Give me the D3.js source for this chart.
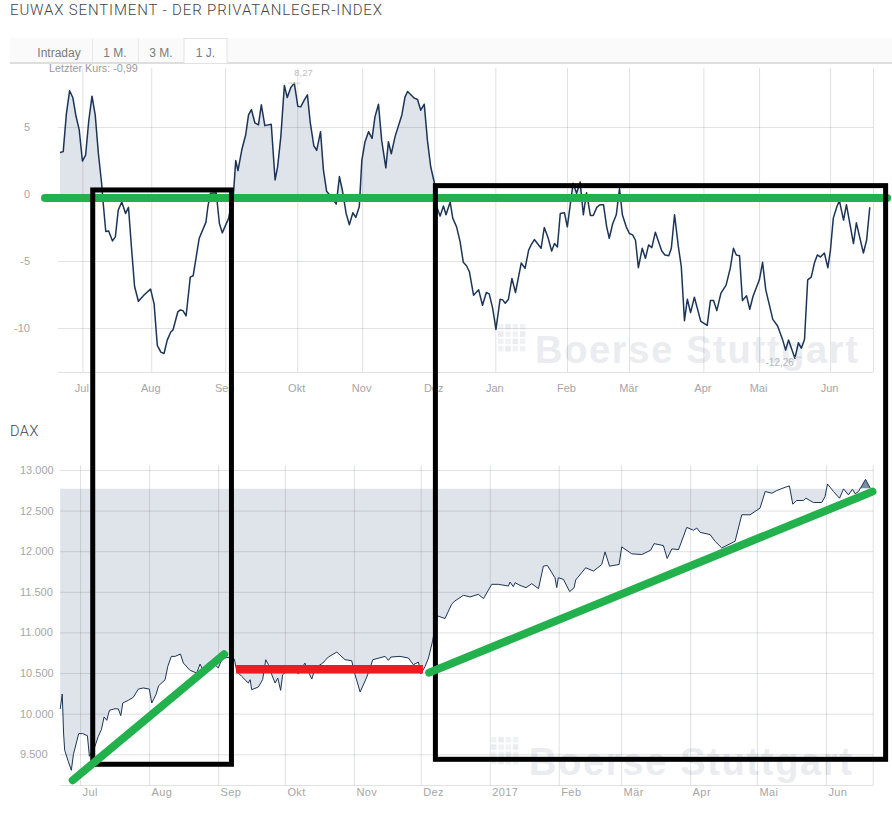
<!DOCTYPE html>
<html>
<head>
<meta charset="utf-8">
<script src="https://cdn.jsdelivr.net/npm/d3@7"></script>
<style>
  html, body { margin: 0; padding: 0; background: #fff; }
  svg { display: block; font-family: "Liberation Sans", Arial, sans-serif; }
  .grid line { stroke: rgba(60,70,90,0.16); }
  .grid path { display: none; }
  .grid text { fill: #a6a6a6; font-size: 11px; }
</style>
</head>
<body>
<svg id="chart" width="892" height="826"></svg>
<script>
// sentiment: x is the trading day number, y the index value
var sentDays = [0,1,2,3,4,5,6,7,8,9,10,11,12,13,13.5,14.3,15.2,16.4,17.3,18.2,19.3,20.5,21.4,22.3,23.3,24.5,26.4,28.3,29.4,30.4,31.5,32.5,33.5,34.6,35.3,36.8,37.6,38.4,39.4,40.7,41.6,43.5,45.6,46.2,47,48.8,49.8,50.7,52.7,54.2,54.9,55.6,56.8,58,58.9,59.8,60.9,62,62.9,64,66,67.2,68,69,70.1,71,72.1,73.2,74.3,75.2,76.3,77.3,78.2,79.3,80.2,81.4,82.3,83.3,85,86.3,87.3,88.2,89.4,90.4,91.5,92.4,93.5,94.3,95.3,96.4,97.5,98.4,99.5,100.5,101.8,102.6,103.5,104.7,106.8,107.8,108.6,110.7,111.7,112.7,113.8,114.8,115.8,117,117.7,118.75,119.8,120.6,121.9,122.7,123.9,125,126,127,127.9,129.2,130.8,132,133.2,134.1,135.2,136.2,137.5,138.3,139.1,140.1,141.2,142.3,144.1,145.3,146.4,147.2,148.2,150.3,151.3,152.4,153.6,154.5,155.4,156.3,157.6,158.5,160.3,161.4,162.5,163.5,164.5,165.7,166.6,167.7,168.7,169.8,170.8,171.6,172.7,173.8,174.8,175.7,176.9,177.9,178.9,179.8,180.7,181.9,182.9,183.9,184.9,186,188,189,190.2,191,192,193.2,194.1,195.1,196,197,198.2,200.2,202.2,203.2,204.2,205.2,206.5,208.1,209.4,210.4,211.3,212.3,213.2,214.5,215.5,216.5,218.5,219.5,220.5,222.7,224.2,225.8,226.7,227.6,229.6,230.7,231.6,232.6,233.6,234.7,235.7,236.6,237.6,238.8,239.9,240.7,241.6,242.7,243.5,244.8,245.7,247.9,248.8,251,252,253];
var sentValues = [3.1,3.16,6,7.7,7.2,5.8,4.8,2.46,2.9,5.5,7.3,5.9,3,0.8,-0.7,-2.8,-2.76,-3.5,-3.2,-1.2,-0.6,-1.45,-1,-3.9,-6.9,-8,-7.5,-7.1,-8.2,-11.3,-11.8,-11.9,-10.9,-10.3,-10.15,-8.8,-8.65,-8.7,-9.1,-6.2,-6.1,-3.3,-2.1,-0.95,0.05,0.1,-2.2,-2.9,-1.8,0.05,2.5,1.75,3.3,4.4,5.9,6.3,5.3,5.15,6.65,5.1,5.2,1.05,2.05,4.3,8.1,7.2,7.95,8.27,6.55,6.5,7,7.4,5.3,3.6,3.25,4.65,1.8,0.2,-0.3,-0.75,1.3,0.3,-1.45,-2.3,-1.4,-1.75,-0.95,2.5,3.9,4.65,4.15,5.75,6.7,4,1.95,3.9,3,4.3,5.9,7.25,7.65,7.15,7.05,6.25,6.7,4,2.05,0.8,-0.95,-1.65,-0.9,-1.55,-0.6,-1.8,-2.45,-3.55,-5.1,-5.35,-5.8,-7.55,-7.15,-8.3,-7.35,-7.45,-8.55,-10.1,-7.85,-7.9,-8.15,-7.85,-6.3,-7.35,-5.15,-5.55,-4.2,-3.8,-3.4,-4.05,-2.5,-3.2,-4.25,-3.7,-3.95,-1.45,-1.4,-2.45,0.8,0.05,0.9,-1.55,0.1,-1.6,-1.6,-1,-0.8,-0.8,-2.45,-3.3,-2.2,-1.55,0.4,-1.55,-2.45,-2.95,-3.05,-3.45,-5.5,-4.05,-4.8,-3.8,-4,-2.85,-4.25,-4.55,-4.6,-4.05,-1.55,-3.95,-5.4,-9.45,-7.85,-8.85,-7.7,-9.5,-9.8,-7.95,-7.95,-8.7,-7.4,-6.8,-5.55,-4.05,-4.55,-4.6,-7.95,-7.6,-8.6,-7.65,-6.4,-5.1,-7.15,-9.35,-9.85,-10.9,-11.65,-10.9,-12.26,-11.1,-11.5,-10.85,-6.4,-6.2,-5.15,-4.55,-4.7,-4.4,-5.5,-4.2,-1.8,-0.95,-0.5,-1.95,-0.8,-3.7,-2.15,-4.4,-3.45,-0.99];
var sentTickDays = [7,28.5,51.6,74.1,94.4,116.9,136,158.4,177.8,201,218.4,240.6,254];
var sentTickLabels = ['Jul','Aug','Sep','Okt','Nov','Dez','Jan','Feb','Mär','Apr','Mai','Jun',''];
var sentLevels = [5,0,-5,-10];

// dax: x is the calendar day counted from 22 Jun 2016
var daxDays = [0.1,1,1.6,2.1,3.7,5.1,6,8.4,10.2,12.3,13.2,15.7,17.2,18.6,19.8,21,22.2,24.7,26.2,27.3,28.2,30.7,32.9,35.2,37.4,40.1,41.2,43.1,44.3,47.2,48.4,50,51.7,54.1,55.4,58.4,61.4,62.9,64.1,66.6,68.9,71.1,72.6,74.9,77.1,78.3,79.4,81.6,84.6,85.4,86.1,89.1,91,92.4,93.6,95.1,96.6,97.8,99.1,100,103.3,107.1,110,110.8,113.1,114.6,118,120.5,124.3,128,131,132.5,134.8,137.8,140.5,146,147.5,148.6,152.7,156.5,158.7,161,162,164,165.5,167.3,169.5,172.9,175.9,177.4,181.2,184.2,187.9,190.2,193.9,196.9,201.4,202.1,203.6,204.4,206.6,209.3,211.9,214.9,217.1,218.9,222.3,223.1,223.8,226.1,228.9,230.9,231.6,236.1,239.6,243.3,244.8,246.8,251.1,252.3,256.8,261.3,265.3,266.8,271,272.7,274.8,277.8,281.5,284.5,286,287.5,292,294.2,297.2,303.2,306.2,309.9,314.4,316.7,319.7,321.9,325.7,327.6,329.1,330.9,333.9,335,338.4,342.1,343.6,344.7,347.4,350.1,351.9,354.1,355.9,357.1,358.6,361.8,363.9];
var daxValues = [10057,10242,9762,9549,9413,9303,9495,9754,9754,9729,9475,9598,9721,9803,9959,9918,10041,10061,10057,9975,10131,10164,10201,10303,10316,10303,10131,10233,10344,10418,10582,10705,10705,10734,10623,10533,10500,10611,10541,10623,10623,10561,10664,10693,10685,10672,10520,10459,10377,10418,10295,10328,10418,10664,10602,10480,10377,10438,10287,10480,10561,10492,10623,10561,10426,10561,10623,10697,10758,10664,10652,10480,10266,10451,10664,10705,10656,10697,10705,10685,10602,10635,10488,10582,10685,10890,11204,11171,11347,11388,11457,11437,11469,11416,11592,11592,11571,11620,11563,11612,11579,11551,11600,11539,11816,11824,11673,11551,11673,11653,11502,11551,11645,11796,11755,11836,11991,11816,11836,12053,11967,11959,12012,12093,12069,11910,12028,12020,12293,12257,12285,12232,12204,12122,12040,12122,12448,12448,12530,12734,12714,12746,12787,12803,12579,12624,12624,12652,12599,12599,12673,12828,12734,12652,12767,12693,12763,12706,12734,12885,12775];
var daxTicks = ['2016-07-01','2016-08-01','2016-09-01','2016-10-01','2016-11-01','2016-12-01','2017-01-01','2017-02-01','2017-03-01','2017-04-01','2017-05-01','2017-06-01','2017-06-22'];
var daxTickLabels = ['Jul','Aug','Sep','Okt','Nov','Dez','2017','Feb','Mär','Apr','Mai','Jun',''];
var daxLevels = [9500,10000,10500,11000,11500,12000,12500,13000];
var daxBase = 12771;

// hand drawn marks on top of the screenshot, in dax days and dax values
var greenDaxLines = [[5.7,9180,73.7,10731],[165.8,10505,364.9,12733]];
var redDaxLine = [79.1,10546,163,10546];
var blackBoxes = [[14.7,16447,77,9377],[168.6,16500,370.8,9438]];
var greenSentLine = [-4.7,-0.3,258.4,-0.3];

var tabLabels = ['Intraday','1 M.','3 M.','1 J.'];
var tabEdges = [10,92,138,184,227];

var svg = d3.select('#chart');
var startDate = new Date(2016,5,22);
var parseDay = d3.timeParse('%Y-%m-%d');
var dotFormat = d3.formatLocale({decimal:',',thousands:'.',grouping:[3],currency:['','€']}).format(',d');

function dayToDate(d){
  return new Date(startDate.getTime() + d * 864e5);
}

// header
svg.append('text').attr('x',10).attr('y',14.5)
  .attr('font-family','Roboto').attr('font-weight',300).attr('font-size',15)
  .attr('letter-spacing',0.85).attr('fill','#444')
  .text('EUWAX SENTIMENT - DER PRIVATANLEGER-INDEX');
svg.append('rect').attr('x',10).attr('y',38).attr('width',882).attr('height',25).attr('fill','#fafafa');
svg.append('rect').attr('x',10).attr('y',62).attr('width',882).attr('height',2).attr('fill','#dedede');
svg.append('rect').attr('x',tabEdges[3]).attr('y',38.5).attr('width',tabEdges[4]-tabEdges[3]).attr('height',25)
  .attr('fill','#fff').attr('stroke','#e2e2e2');
svg.selectAll('.tabline').data([tabEdges[1],tabEdges[2]]).enter().append('line')
  .attr('class','tabline').attr('x1',function(d){return d+0.5}).attr('x2',function(d){return d+0.5})
  .attr('y1',39).attr('y2',62).attr('stroke','#e8e8e8');
svg.selectAll('.tab').data(tabLabels).enter().append('text')
  .attr('class','tab').attr('x',function(d,i){return i==0 ? 59 : (tabEdges[i]+tabEdges[i+1])/2})
  .attr('y',57).attr('text-anchor','middle').attr('font-size',12).attr('fill','#7a7a7a')
  .text(function(d){return d});
svg.append('text').attr('x',49).attr('y',72).attr('font-size',10.8).attr('fill','#9a9a9a').text('Letzter Kurs: -0,99');
svg.append('text').attr('x',10).attr('y',436).attr('font-family','Roboto').attr('font-weight',300)
  .attr('font-size',14.5).attr('letter-spacing',0.5).attr('fill','#444').text('DAX');

function watermark(x, y, textX, textY){
  var g = svg.append('g').attr('fill','#eaecf0');
  d3.range(16).forEach(function(i){
    g.append('rect').attr('x',x+(i%4)*7.3).attr('y',y+Math.floor(i/4)*7.3).attr('width',5.5).attr('height',5.5)
      .attr('opacity',i%3==1 ? 1 : 0.7);
  });
  g.append('text').attr('x',textX).attr('y',textY).attr('font-weight','bold')
    .attr('font-size',38).attr('textLength',323).attr('lengthAdjust','spacing').text('Boerse Stuttgart');
}

// sentiment chart
var xSent = d3.scaleLinear().domain([0,254]).range([60,873]);
var ySent = d3.scaleLinear().domain([-13.28,9.4]).range([372,68]);
var sentPoints = sentDays.map(function(d,i){return {x:d,y:sentValues[i]}});

watermark(498,324,535,363);

svg.append('clipPath').attr('id','sentClip').append('rect')
  .attr('x',60).attr('y',68).attr('width',813).attr('height',ySent(0)-68);
svg.append('path').datum(sentPoints).attr('clip-path','url(#sentClip)').attr('fill','#dfe3ea')
  .attr('d',d3.area().x(function(d){return xSent(d.x)}).y0(ySent(0)).y1(function(d){return ySent(d.y)}));

var sentXAxis = d3.axisBottom(xSent).tickValues(sentTickDays).tickSize(-304).tickPadding(12)
  .tickFormat(function(d,i){return sentTickLabels[i]});
var sentXGroup = svg.append('g').attr('class','grid').attr('transform','translate(0,372)').call(sentXAxis);
sentXGroup.selectAll('text').attr('x',-1);
var sentYAxis = d3.axisLeft(ySent).tickValues(sentLevels).tickSize(-815).tickPadding(28)
  .tickFormat(function(d){return String(d)});
svg.append('g').attr('class','grid').attr('transform','translate(58,0)').call(sentYAxis);
svg.append('line').attr('x1',58).attr('x2',873).attr('y1',372.5).attr('y2',372.5).attr('stroke','rgba(60,70,90,0.16)');

svg.append('path').datum(sentPoints).attr('fill','none').attr('stroke','#1c3557').attr('stroke-width',1.5)
  .attr('stroke-linejoin','round')
  .attr('d',d3.line().x(function(d){return xSent(d.x)}).y(function(d){return ySent(d.y)}));

// high and low labels
svg.append('text').attr('x',xSent(73.2)).attr('y',ySent(8.27)-7)
  .attr('font-size',9.5).attr('fill','#bdbdbd').text('8,27');
svg.append('line').attr('x1',xSent(73.2)-6).attr('x2',xSent(73.2)+6).attr('y1',ySent(8.27)).attr('y2',ySent(8.27)).attr('stroke','#cfcfcf');
svg.append('text').attr('x',xSent(229.6)-1).attr('y',ySent(-12.26)+8).attr('text-anchor','end')
  .attr('font-size',10).attr('fill','#b5b5b5').text('-12,26');
svg.append('line').attr('x1',xSent(229.6)).attr('x2',xSent(229.6)+7).attr('y1',ySent(-12.26)-1).attr('y2',ySent(-12.26)-1).attr('stroke','#cfcfcf');

// dax chart
var xDax = d3.scaleTime().domain([startDate,new Date(2017,5,22)]).range([60,872.7]);
var yDax = d3.scaleLinear().domain([9118,13061]).range([785.3,465]);
var daxPoints = daxDays.map(function(d,i){return {x:dayToDate(d),y:daxValues[i]}});

watermark(491,737,529,775);

svg.append('clipPath').attr('id','daxClip').append('rect')
  .attr('x',60).attr('y',yDax(daxBase)).attr('width',813).attr('height',785-yDax(daxBase));
svg.append('clipPath').attr('id','daxTopClip').append('rect')
  .attr('x',60).attr('y',465).attr('width',813).attr('height',yDax(daxBase)-465);
var daxArea = d3.area().x(function(d){return xDax(d.x)}).y0(yDax(daxBase)).y1(function(d){return yDax(d.y)});
svg.append('path').datum(daxPoints).attr('clip-path','url(#daxClip)').attr('fill','#dfe3ea').attr('d',daxArea);
svg.append('path').datum(daxPoints.slice(-3)).attr('clip-path','url(#daxTopClip)').attr('fill','#7d8ca6').attr('d',daxArea);

var daxXAxis = d3.axisBottom(xDax).tickValues(daxTicks.map(parseDay)).tickSize(-320).tickPadding(3)
  .tickFormat(function(d,i){return daxTickLabels[i]});
var daxXGroup = svg.append('g').attr('class','grid').attr('transform','translate(0,785.3)').call(daxXAxis);
daxXGroup.selectAll('text').attr('text-anchor','start').attr('x',2).attr('letter-spacing',0.4);
var daxYAxis = d3.axisLeft(yDax).tickValues(daxLevels).tickSize(-813).tickPadding(0)
  .tickFormat(function(d){return dotFormat(d)});
var daxYGroup = svg.append('g').attr('class','grid').attr('transform','translate(60,0)').call(daxYAxis);
daxYGroup.selectAll('text').attr('text-anchor','start').attr('x',-40);
svg.append('line').attr('x1',60).attr('x2',873).attr('y1',785.5).attr('y2',785.5).attr('stroke','rgba(60,70,90,0.16)');

svg.append('path').datum(daxPoints).attr('fill','none').attr('stroke','#1c3557').attr('stroke-width',1)
  .attr('d',d3.line().x(function(d){return xDax(d.x)}).y(function(d){return yDax(d.y)}));

// annotations
svg.append('line').attr('x1',xSent(greenSentLine[0])).attr('x2',xSent(greenSentLine[2]))
  .attr('y1',ySent(greenSentLine[1])).attr('y2',ySent(greenSentLine[3]))
  .attr('stroke','#22b14c').attr('stroke-width',8).attr('stroke-linecap','round');
svg.selectAll('.box').data(blackBoxes).enter().append('rect').attr('class','box')
  .attr('x',function(d){return xDax(dayToDate(d[0]))})
  .attr('y',function(d){return yDax(d[1])})
  .attr('width',function(d){return xDax(dayToDate(d[2]))-xDax(dayToDate(d[0]))})
  .attr('height',function(d){return yDax(d[3])-yDax(d[1])})
  .attr('fill','none').attr('stroke','#000').attr('stroke-width',5);
svg.selectAll('.greenline').data(greenDaxLines).enter().append('line').attr('class','greenline')
  .attr('x1',function(d){return xDax(dayToDate(d[0]))})
  .attr('y1',function(d){return yDax(d[1])})
  .attr('x2',function(d){return xDax(dayToDate(d[2]))})
  .attr('y2',function(d){return yDax(d[3])})
  .attr('stroke','#22b14c').attr('stroke-width',8).attr('stroke-linecap','round');
svg.append('line').attr('x1',xDax(dayToDate(redDaxLine[0]))).attr('x2',xDax(dayToDate(redDaxLine[2])))
  .attr('y1',yDax(redDaxLine[1])).attr('y2',yDax(redDaxLine[3]))
  .attr('stroke','#ed1c24').attr('stroke-width',8.5);
</script>
</body>
</html>
